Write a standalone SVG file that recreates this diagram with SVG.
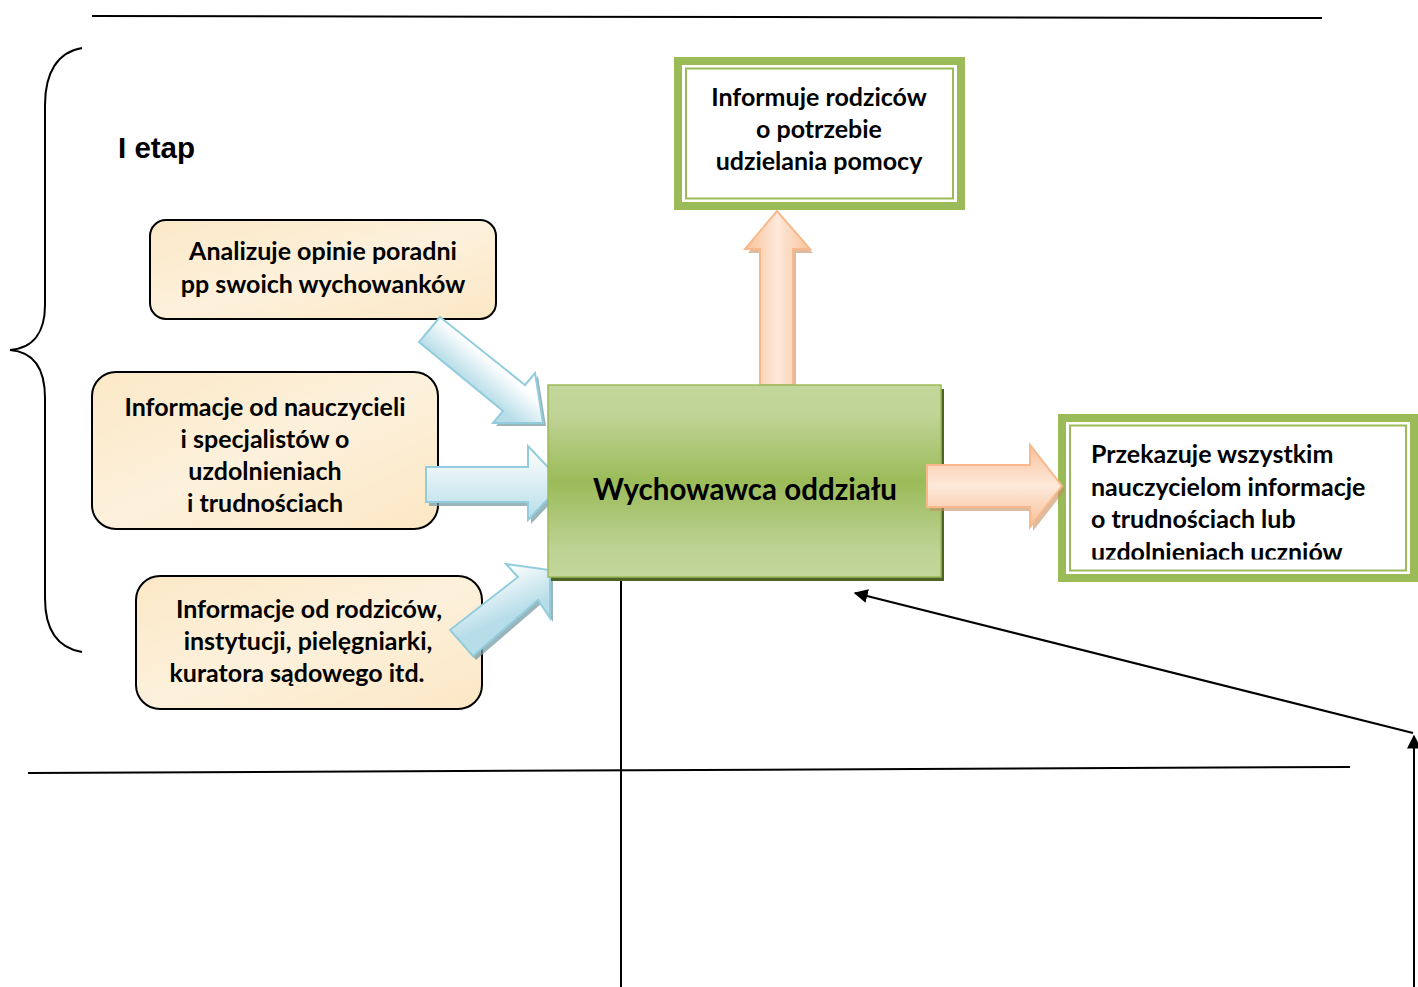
<svg xmlns="http://www.w3.org/2000/svg" width="1418" height="987" viewBox="0 0 1418 987">
<style>
.t{font-family:Lato,"Open Sans","Liberation Sans",sans-serif;font-weight:bold;fill:#000;font-size:25px}
.c{text-anchor:middle}
.cream{fill:url(#gCream);stroke:#000;stroke-width:2}
.blue{fill:url(#gBlue);stroke:#93cddd;stroke-width:2;stroke-linejoin:miter}
.bshadow{fill:#7a9ca6;opacity:.75}
.orange{stroke:#f7b98c;stroke-width:2}
.oshadow{fill:#c58d62;opacity:.6}
.ln{stroke:#000;stroke-width:2;fill:none}
</style>
<defs>
<linearGradient id="gCream" x1="0" y1="0" x2="1" y2="1">
<stop offset="0" stop-color="#fbe8c6"/><stop offset=".5" stop-color="#fdf1dc"/><stop offset="1" stop-color="#fbe7c4"/>
</linearGradient>
<linearGradient id="gBlue" x1="0" y1="0" x2="0" y2="1">
<stop offset="0" stop-color="#ffffff"/><stop offset="1" stop-color="#b7dde8"/>
</linearGradient>
<linearGradient id="gBlueD1" gradientUnits="userSpaceOnUse" x1="440" y1="317" x2="419" y2="342">
<stop offset="0" stop-color="#ffffff"/><stop offset="1" stop-color="#b7dde8"/>
</linearGradient>
<linearGradient id="gBlueD3" gradientUnits="userSpaceOnUse" x1="505" y1="565" x2="525" y2="610">
<stop offset="0" stop-color="#ffffff"/><stop offset="1" stop-color="#b7dde8"/>
</linearGradient>
<linearGradient id="gOrV" x1="0" y1="0" x2="1" y2="0">
<stop offset="0" stop-color="#f9bf96"/><stop offset=".5" stop-color="#fde9da"/><stop offset="1" stop-color="#f9c29c"/>
</linearGradient>
<linearGradient id="gOrH" x1="0" y1="0" x2="0" y2="1">
<stop offset="0" stop-color="#f9c29c"/><stop offset=".5" stop-color="#fde9da"/><stop offset="1" stop-color="#f9bf96"/>
</linearGradient>
<linearGradient id="gGreen" x1="0" y1="0" x2="0" y2="1">
<stop offset="0" stop-color="#c3d69b"/><stop offset=".15" stop-color="#c0d497"/><stop offset=".5" stop-color="#9bbb59"/><stop offset=".85" stop-color="#bcd293"/><stop offset="1" stop-color="#c3d69b"/>
</linearGradient>
<clipPath id="clipR"><rect x="1070" y="426" width="336" height="133.5"/></clipPath>
<marker id="ah" viewBox="0 0 10 10" refX="9" refY="5" markerWidth="7" markerHeight="7" orient="auto" markerUnits="strokeWidth">
<path d="M0,0 L10,5 L0,10 z" fill="#000"/>
</marker>
</defs>
<rect width="1418" height="987" fill="#fff"/>

<g id="frame">
<line class="ln" x1="92" y1="16" x2="1322" y2="18"/>
<path class="ln" d="M82,48 C58,52 45,72 45,105 L45,305 C45,330 35,348 10,350 C35,352 45,370 45,398 L45,598 C45,630 58,648 82,652"/>
<text class="t" x="118" y="158" style="font-family:'Liberation Sans',Arial,sans-serif;font-size:29.5px">I etap</text>
</g>

<g id="node-analizuje">
<rect class="cream" x="150" y="220" width="346" height="99" rx="16"/>
<text class="t c" x="323" y="260">Analizuje opinie poradni</text>
<text class="t c" x="323" y="293">pp swoich wychowanków</text>
</g>

<g id="node-nauczyciele">
<rect class="cream" x="92" y="372" width="346" height="157" rx="24"/>
<text class="t c" x="265" y="416">Informacje od nauczycieli</text>
<text class="t c" x="265" y="448">i specjalistów o</text>
<text class="t c" x="265" y="480">uzdolnieniach</text>
<text class="t c" x="265" y="512">i trudnościach</text>
</g>

<g id="node-rodzice">
<rect class="cream" x="136" y="576" width="346" height="133" rx="24"/>
<text class="t c" x="309" y="618">Informacje od rodziców,</text>
<text class="t c" x="308" y="650">instytucji, pielęgniarki,</text>
<text class="t c" x="297" y="682">kuratora sądowego itd.</text>
</g>

<g id="node-informuje">
<rect x="674" y="57" width="291" height="153" fill="#9bbb59"/>
<rect x="682" y="65" width="275" height="137" fill="#fff"/>
<rect x="686" y="68.5" width="267" height="130" fill="none" stroke="#9bbb59" stroke-width="2"/>
<text class="t c" x="819" y="106">Informuje rodziców</text>
<text class="t c" x="819" y="138">o potrzebie</text>
<text class="t c" x="819" y="170">udzielania pomocy</text>
</g>

<g id="node-przekazuje">
<rect x="1058" y="414" width="360" height="168" fill="#9bbb59"/>
<rect x="1066" y="422" width="344" height="152" fill="#fff"/>
<rect x="1070" y="425.5" width="336" height="145" fill="none" stroke="#9bbb59" stroke-width="2"/>
<g clip-path="url(#clipR)">
<text class="t" x="1091" y="463">Przekazuje wszystkim</text>
<text class="t" x="1091" y="496">nauczycielom informacje</text>
<text class="t" x="1091" y="528">o trudnościach lub</text>
<text class="t" x="1091" y="561">uzdolnieniach uczniów</text>
</g>
</g>

<g id="connectors">
<line class="ln" x1="28" y1="773" x2="1350" y2="767"/>
<line class="ln" x1="621" y1="577" x2="621" y2="987"/>
<line class="ln" x1="1414" y1="987" x2="1414" y2="736" marker-end="url(#ah)"/>
<line class="ln" x1="1413" y1="733" x2="855" y2="593" marker-end="url(#ah)"/>

<polygon class="bshadow" transform="translate(3,3)" points="440,317 525,385 535,373 543,423 493,423 503,411 419,342"/>
<polygon class="blue" style="fill:url(#gBlueD1)" points="440,317 525,385 535,373 543,423 493,423 503,411 419,342"/>

<polygon class="bshadow" transform="translate(3,4)" points="426,467 528,467 528,446 563,483 528,520 528,502 426,502"/>
<polygon class="blue" points="426,467 528,467 528,446 563,483 528,520 528,502 426,502"/>

<polygon class="bshadow" transform="translate(3,4)" points="450,630 518,577 506,564 550,570 550,618 538,600 473,656"/>
<polygon class="blue" style="fill:url(#gBlueD3)" points="450,630 518,577 506,564 550,570 550,618 538,600 473,656"/>

<polygon class="oshadow" transform="translate(3,4)" points="760,385 760,249 745,249 777,211 810,249 793,249 793,385"/>
<polygon class="orange" fill="url(#gOrV)" points="760,385 760,249 745,249 777,211 810,249 793,249 793,385"/>
</g>

<g id="node-wychowawca">
<rect x="551" y="389" width="393" height="192" fill="#4f6228"/>
<rect x="548" y="385" width="393" height="192" fill="url(#gGreen)" stroke="#9bbb59" stroke-width="1.5"/>
<text class="t c" style="font-size:29.5px" x="745" y="500">Wychowawca oddziału</text>
</g>

<g id="connectors-2">
<polygon class="oshadow" transform="translate(3,4)" points="927,465 1030,465 1030,445 1062,486 1030,527 1030,507 927,507"/>
<polygon class="orange" fill="url(#gOrH)" points="927,465 1030,465 1030,445 1062,486 1030,527 1030,507 927,507"/>
</g>
</svg>
